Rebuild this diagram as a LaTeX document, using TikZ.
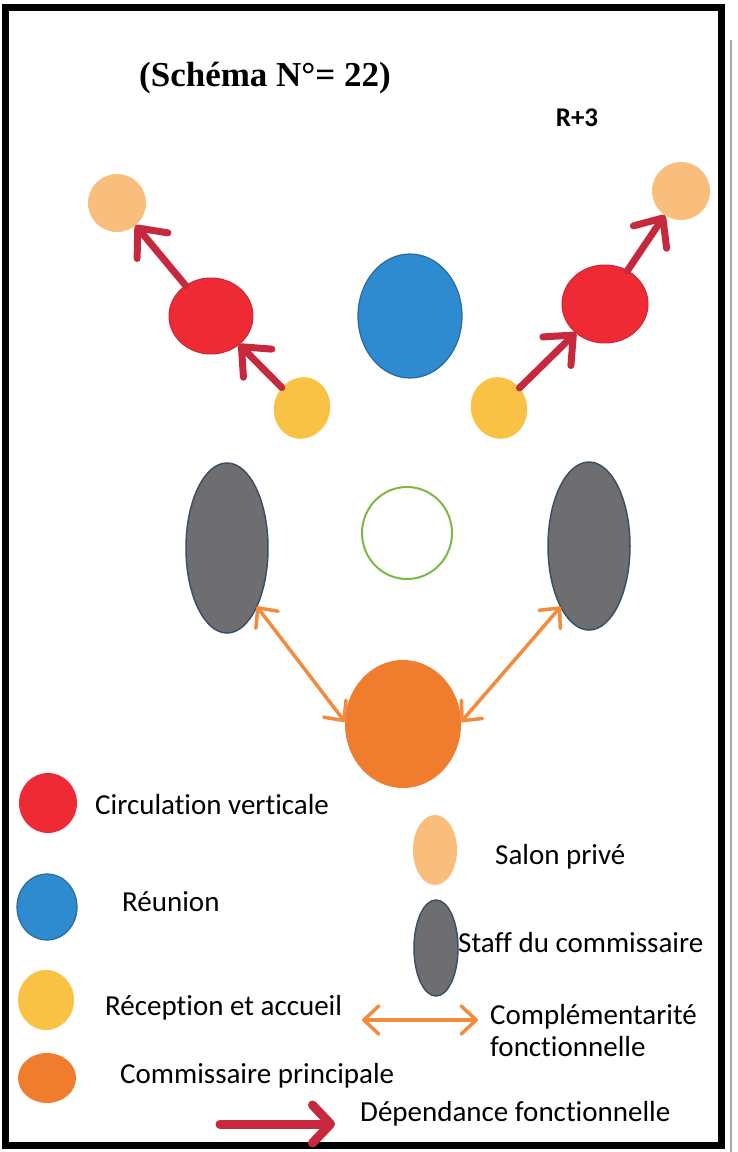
\documentclass[tikz,border=0pt]{standalone}
\usepackage{fontspec}
\setmainfont{Carlito}[Ligatures=NoCommon]
\newfontfamily\titlefont{Liberation Serif}
\usetikzlibrary{arrows.meta,shapes.geometric}
\definecolor{salonc}{HTML}{F9BE7C}
\definecolor{redc}{HTML}{EE2B34}
\definecolor{redb}{HTML}{C8283A}
\definecolor{yellowc}{HTML}{F9C244}
\definecolor{bluec}{HTML}{2F8BD0}
\definecolor{blueb}{HTML}{2A6A9E}
\definecolor{grayc}{HTML}{6E6E70}
\definecolor{grayb}{HTML}{3A5068}
\definecolor{orangec}{HTML}{F07C2E}
\definecolor{depred}{HTML}{C8283E}
\definecolor{comporange}{HTML}{F28C3C}
\definecolor{greenc}{HTML}{7DB843}
\tikzset{
  blob/.style={ellipse, inner sep=0pt, outer sep=0pt},
  salon/.style={blob, fill=salonc},
  circv/.style={blob, fill=redc, draw=redb, line width=1pt},
  recep/.style={blob, fill=yellowc},
  reun/.style={blob, fill=bluec, draw=blueb, line width=1.2pt},
  staff/.style={blob, fill=grayc, draw=grayb, line width=1.5pt},
  commp/.style={blob, fill=orangec},
  dep/.style={draw=depred, line width=7pt, line cap=round,
    -{Straight Barb[round,length=23pt,width=40pt]}},
  comp/.style={draw=comporange, line width=3.5pt,
    {Straight Barb[round,length=15pt,width=28pt]}-{Straight Barb[round,length=15pt,width=28pt]}},
  lgtext/.style={anchor=west, inner sep=0pt, font=\fontsize{29}{32}\selectfont, align=left}
}
\begin{document}
\begin{tikzpicture}[x=1pt,y=-1pt]
\useasboundingbox (0,0) rectangle (737,1152);
\fill[white] (0,0) rectangle (737,1152);
% frame
\draw[line width=7pt] (5,7) rectangle (721,1145);
\draw[gray!70, line width=2pt] (731,40) -- (731,1152);
% title
\node[font=\titlefont\bfseries\fontsize{35}{38}\selectfont] (title) at (265,78) {(Schéma N°= 22)};
\node[font=\bfseries\fontsize{27}{29}\selectfont] (level) at (577,118) {R+3};
% top group
\node[salon, minimum width=58pt, minimum height=58pt] (sl) at (117,203) {};
\node[circv, minimum width=84pt, minimum height=76pt] (rl) at (211,316) {};
\node[recep, minimum width=56pt, minimum height=62pt, rotate=-15] (yl) at (302,408) {};
\node[reun, minimum width=104pt, minimum height=124pt] (bl) at (410,316) {};
\node[recep, minimum width=56pt, minimum height=62pt, rotate=15] (yr) at (499,408) {};
\node[circv, minimum width=86pt, minimum height=78pt] (rr) at (605,304) {};
\node[salon, minimum width=58pt, minimum height=58pt] (sr) at (681,191) {};
\draw[dep] (yl) -- (rl);
\draw[dep] (rl) -- (sl);
\draw[dep] (yr) -- (rr);
\draw[dep] (rr) -- (sr);
% lower group
\node[staff, minimum width=82pt, minimum height=170pt] (gl) at (227,548) {};
\node[staff, minimum width=82pt, minimum height=168pt] (gr) at (589,546) {};
\node[blob, draw=greenc, line width=2pt, minimum width=90pt, minimum height=92pt] (gc) at (407,533) {};
\node[commp, minimum width=116pt, minimum height=128pt] (oc) at (403,724) {};
\draw[comp] (gl.-63) -- (oc.178);
\draw[comp] (oc.2) -- (gr.-115);
% legend
\node[circv, draw=none, minimum width=58pt, minimum height=60pt] (lg1) at (48,803) {};
\node[lgtext] (lt1) at (95,805) {Circulation verticale};
\node[salon, minimum width=44pt, minimum height=70pt] (lg2) at (435,850) {};
\node[lgtext] (lt2) at (495,857) {Salon privé};
\node[reun, minimum width=60pt, minimum height=66pt] (lg3) at (47,907) {};
\node[lgtext] (lt3) at (122,902) {Réunion};
\node[staff, minimum width=44pt, minimum height=96pt] (lg4) at (436,948) {};
\node[lgtext] (lt4) at (458,943) {Staff du commissaire};
\node[recep, minimum width=56pt, minimum height=60pt] (lg5) at (46,1000) {};
\node[lgtext] (lt5) at (105,1008) {Réception et accueil};
\coordinate (ca) at (362,1020);
\coordinate (cb) at (478,1020);
\draw[comp] (ca) -- (cb);
\node[lgtext, anchor=north west] (lt6) at (490,1004) {Complémentarité\\fonctionnelle};
\node[commp, minimum width=58pt, minimum height=50pt] (lg7) at (47,1078) {};
\node[lgtext] (lt7) at (120,1076) {Commissaire principale};
\coordinate (da) at (220,1124);
\coordinate (db) at (335,1124);
\draw[dep, line width=9pt, -{Straight Barb[round,length=18pt,width=38pt]}] (da) -- (db);
\node[lgtext] (lt8) at (360,1114) {Dépendance fonctionnelle};
\end{tikzpicture}
\end{document}
